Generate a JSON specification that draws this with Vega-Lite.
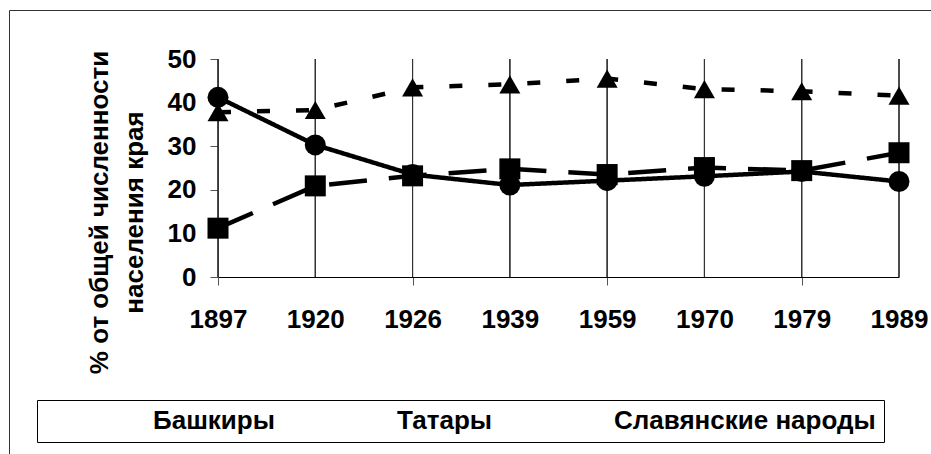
{
  "$schema": "https://vega.github.io/schema/vega-lite/v6.json",
  "width": 922,
  "height": 444,
  "autosize": {"type": "none"},
  "padding": {"left": 9, "top": 10, "right": 0, "bottom": 0},
  "background": "white",
  "config": {
    "view": {"stroke": "#333333", "strokeWidth": 1},
    "font": "Liberation Sans",
    "legend": {
      "orient": "none",
      "legendX": 28,
      "legendY": 390,
      "direction": "horizontal",
      "strokeColor": "black",
      "fillColor": "white",
      "padding": 8,
      "labelFont": "Liberation Sans",
      "labelFontWeight": "bold",
      "labelFontSize": 26,
      "labelColor": "black",
      "labelLimit": 400,
      "labelOffset": 39,
      "symbolOffset": 43,
      "symbolSize": 324,
      "symbolStrokeWidth": 0,
      "symbolFillColor": "black",
      "columnPadding": 14
    }
  },
  "data": {
    "values": [
      {"year": 1897, "series": "Башкиры", "value": 41.2},
      {"year": 1920, "series": "Башкиры", "value": 30.3},
      {"year": 1926, "series": "Башкиры", "value": 23.5},
      {"year": 1939, "series": "Башкиры", "value": 21.1},
      {"year": 1959, "series": "Башкиры", "value": 22.1},
      {"year": 1970, "series": "Башкиры", "value": 23.1},
      {"year": 1979, "series": "Башкиры", "value": 24.2},
      {"year": 1989, "series": "Башкиры", "value": 21.9},
      {"year": 1897, "series": "Татары", "value": 11.2},
      {"year": 1920, "series": "Татары", "value": 20.9},
      {"year": 1926, "series": "Татары", "value": 23.2},
      {"year": 1939, "series": "Татары", "value": 24.8},
      {"year": 1959, "series": "Татары", "value": 23.5},
      {"year": 1970, "series": "Татары", "value": 25.1},
      {"year": 1979, "series": "Татары", "value": 24.4},
      {"year": 1989, "series": "Татары", "value": 28.5},
      {"year": 1897, "series": "Славянские народы", "value": 37.8},
      {"year": 1920, "series": "Славянские народы", "value": 38.3},
      {"year": 1926, "series": "Славянские народы", "value": 43.5},
      {"year": 1939, "series": "Славянские народы", "value": 44.2},
      {"year": 1959, "series": "Славянские народы", "value": 45.5},
      {"year": 1970, "series": "Славянские народы", "value": 43.1},
      {"year": 1979, "series": "Славянские народы", "value": 42.6},
      {"year": 1989, "series": "Славянские народы", "value": 41.6}
    ]
  },
  "encoding": {
    "x": {
      "field": "year",
      "type": "ordinal",
      "scale": {"type": "point", "domain": [1897, 1920, 1926, 1939, 1959, 1970, 1979, 1989], "range": [209, 890], "padding": 0},
      "axis": {
        "orient": "bottom",
        "offset": -177,
        "title": null,
        "labelAngle": 0,
        "labelFont": "Liberation Sans",
        "labelFontWeight": "bold",
        "labelFontSize": 26,
        "labelColor": "black",
        "labelPadding": 21,
        "labelOverlap": false,
        "labelFlush": false,
        "tickSize": 8,
        "tickColor": "#555555",
        "tickOpacity": {"condition": {"test": "indexof([1897,1926,1959,1979], datum.value) >= 0", "value": 1}, "value": 0},
        "domainColor": "black",
        "grid": false
      }
    },
    "y": {
      "field": "value",
      "type": "quantitative",
      "scale": {"domain": [0, 50], "range": [267, 49], "nice": false},
      "axis": {
        "orient": "left",
        "offset": -209,
        "values": [0, 10, 20, 30, 40, 50],
        "tickSize": 8,
        "tickColor": "#555555",
        "domainColor": "#555555",
        "labelFont": "Liberation Sans",
        "labelFontWeight": "bold",
        "labelFontSize": 26,
        "labelColor": "black",
        "labelPadding": 14,
        "labelFlush": false,
        "grid": false,
        "title": ["% от общей численности", "населения края"],
        "titleFont": "Liberation Sans",
        "titleFontWeight": "bold",
        "titleFontSize": 26,
        "titleColor": "black",
        "titleAngle": -90,
        "titleX": -111,
        "titleY": 202,
        "titleAlign": "center",
        "titleBaseline": "alphabetic",
        "titleLineHeight": 35
      }
    }
  },
  "layer": [
    {
      "mark": {"type": "rule", "color": "#333333", "strokeWidth": 1},
      "encoding": {
        "y": {"datum": 0, "type": "quantitative"},
        "y2": {"datum": 50}
      }
    },
    {
      "mark": {"type": "line", "color": "black", "strokeWidth": 4.5, "strokeCap": "butt"},
      "encoding": {
        "strokeDash": {
          "field": "series",
          "type": "nominal",
          "scale": {"domain": ["Башкиры", "Татары", "Славянские народы"], "range": [[1, 0], [38, 22], [13, 26]]},
          "legend": {
            "title": null,
            "encode": {
              "symbols": {
                "shape": {
                  "condition": [
                    {"test": "datum.value === 'Башкиры'", "value": "M-5.8,-0.25H5.8V0.25H-5.8Z M1,0A1,1 0 1,1 -1,0A1,1 0 1,1 1,0Z"},
                    {"test": "datum.value === 'Татары'", "value": "M-5.8,-0.25H-1V0.25H-5.8Z M-1.1,-1.1H1.1V1.1H-1.1Z M1.9,-0.25H5.8V0.25H1.9Z"}
                  ],
                  "value": "M-5.4,-0.25H-4V0.25H-5.4Z M0,-1.15L1.25,1L-1.25,1Z M3,-0.25H4.4V0.25H3Z"
                },
                "fill": {"value": "black"},
                "stroke": {"value": "transparent"},
                "strokeWidth": {"value": 0}
              }
            }
          }
        }
      }
    },
    {
      "mark": {"type": "point", "filled": true, "color": "black", "opacity": 1, "size": 441, "strokeWidth": 0},
      "encoding": {
        "shape": {
          "field": "series",
          "type": "nominal",
          "scale": {"domain": ["Татары", "Башкиры", "Славянские народы"], "range": ["square", "circle", "triangle-up"]},
          "legend": null
        }
      }
    }
  ]
}
